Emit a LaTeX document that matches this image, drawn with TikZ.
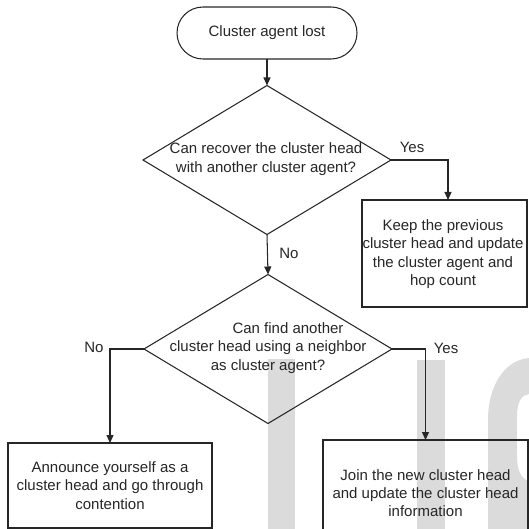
\documentclass[tikz,border=0pt]{standalone}
\usepackage{fontspec}
\setmainfont{Liberation Sans}
\usetikzlibrary{shapes.geometric,arrows.meta}
\begin{document}
\begin{tikzpicture}[x=1pt,y=-1pt,
  line/.style={line width=1.05pt, draw=black!85},
  arr/.style={line, -{Triangle[length=8pt,width=7pt]}},
  txt/.style={font=\fontsize{15}{18.3}\selectfont, text=black!85, align=center, inner sep=0},
  term/.style={line, rectangle, rounded corners=26pt, minimum width=180pt, minimum height=52pt, inner sep=0, outer sep=0},
  dia/.style={line, diamond, minimum width=248pt, minimum height=149pt, inner sep=0, outer sep=0},
  boxnode/.style={line, rectangle, inner sep=0, outer sep=0},
  lab/.style={font=\fontsize{15}{18}\selectfont, text=black!85, inner sep=0},
  wmfill/.style={fill=black!14}
]
\useasboundingbox (0,0) rectangle (529,529);
\clip (0,0) rectangle (529,529);
% watermark shapes (I, J, S)
\fill[wmfill] (268,359) rectangle (295,529);
\fill[wmfill] (417,360) rectangle (445,529);
\fill[wmfill] (529,358) .. controls (505,360) and (488,385) .. (488,420) -- (488,529) -- (529,529) -- (529,481)
   .. controls (521,479) and (517,470) .. (517,456) -- (517,416) .. controls (517,401) and (522,395) .. (529,394) -- cycle;

% nodes
\node[term] (start) at (267,33) {};
\node[txt] (startt) at (start) {Cluster agent lost};

\node[dia] (d1) at (267,160) {};
\node[txt] (d1t) at (266,159) {Can recover the cluster head\\with another cluster agent?};

\node[boxnode, minimum width=165pt, minimum height=107pt] (b1) at (444.5,253.5) {};
\node[txt] (b1t) at (443,254) {Keep the previous\\cluster head and update\\the cluster agent and\\hop count};

\node[dia] (d2) at (268,349) {};
\node[txt] (d2t) at (268,348) {\hspace*{40pt}Can find another\\cluster head using a neighbor\\as cluster agent?};

\node[boxnode, minimum width=204pt, minimum height=85pt] (b2) at (110,485.5) {};
\node[txt] (b2t) at (b2) {Announce yourself as a\\cluster head and go through\\contention};

\node[boxnode, minimum width=205pt, minimum height=106pt] (b3) at (425.5,493) {};
\node[txt] (b3t) at (b3) {Join the new cluster head\\and update the cluster head\\information};

% labels
\node[lab] (yes1) at (412,147) {Yes};
\node[lab] (no1) at (289,253) {No};
\node[lab] (no2) at (94,347) {No};
\node[lab] (yes2) at (446,348) {Yes};

% connectors
\draw[arr] (start.south) -- (d1.north);
\draw[arr] (d1.east) -| ([xshift=3.5pt]b1.north);
\draw[arr] (d1.south) -- (d2.north);
\draw[arr] (d2.west) -| (b2.north);
\draw[arr] (d2.east) -| (b3.north);
\end{tikzpicture}
\end{document}
